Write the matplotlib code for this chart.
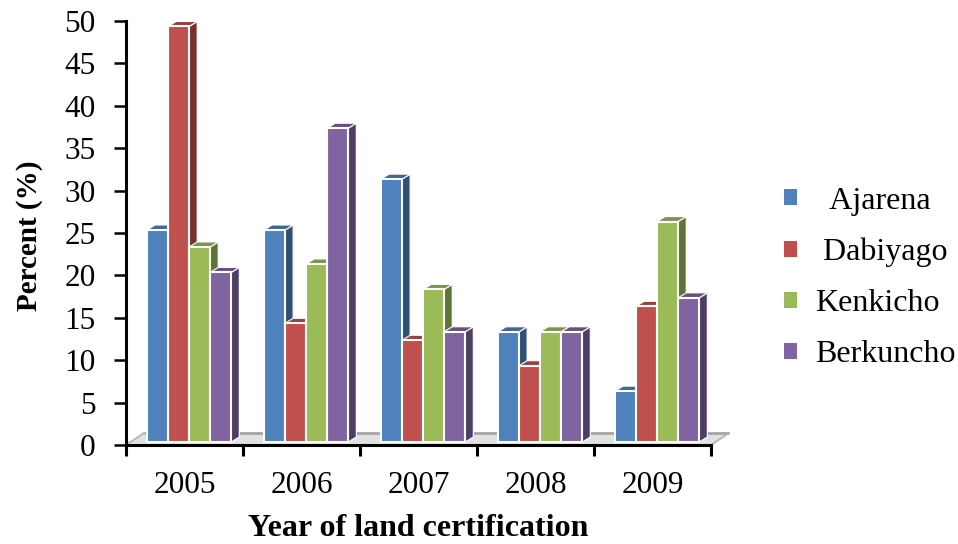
import numpy as np
import matplotlib
matplotlib.use("Agg")
import matplotlib.pyplot as plt
import matplotlib.transforms as mtransforms
from matplotlib.patches import Polygon, Patch
from matplotlib.colors import to_rgb

plt.rcParams["font.family"] = "Liberation Serif"

# Share of land certificates issued per year, by kebele
years = ["2005", "2006", "2007", "2008", "2009"]
sites = ["Ajarena", "Dabiyago", "Kenkicho", "Berkuncho"]
legend_labels = ["  Ajarena", " Dabiyago", "Kenkicho", "Berkuncho"]
ajarena = [25, 25, 31, 13, 6]
dabiyago = [49, 14, 12, 9, 16]
kenkicho = [23, 21, 18, 13, 26]
berkuncho = [20, 37, 13, 13, 17]
series = [ajarena, dabiyago, kenkicho, berkuncho]
colors = ["#4F81BD", "#C0504D", "#9BBB59", "#8064A2"]

TICK_FONT = 22.5
LABEL_FONT = 23


def shade(color, factor):
    return tuple(np.clip(np.array(to_rgb(color)) * factor, 0, 1))


fig = plt.figure(figsize=(9.58, 5.44), dpi=100)
ax = fig.add_axes([126 / 958, 99 / 544, 585 / 958, 424 / 544])
ax.set_xlim(0, len(years))
ax.set_ylim(0, 50)

# pixel sizes of the fake 3D depth, converted to data units
px_x = 585 / len(years)
px_y = 424 / 50
bar_dx, bar_dy = 8 / px_x, 5 / px_y
floor_dx, floor_dy = 18 / px_x, 12 / px_y

# bars sit a little back on the floor
lift = mtransforms.ScaledTranslation(0, 3 / 100, fig.dpi_scale_trans)
bar_trans = ax.transData + lift

# floor of the 3D chart
n = len(years)
floor = Polygon([(0, 0), (n, 0), (n + floor_dx, floor_dy), (floor_dx, floor_dy)],
                closed=True, facecolor="#E2E2E2", edgecolor="none",
                zorder=0.5, clip_on=False)
ax.add_patch(floor)
ax.plot([floor_dx, n + floor_dx], [floor_dy, floor_dy], color="#A6A6A6",
        lw=2, zorder=0.6, clip_on=False, solid_capstyle="butt")
ax.plot([n, n + floor_dx], [0, floor_dy], color="#B0B0B0", lw=1.2,
        zorder=0.6, clip_on=False)
ax.plot([0, floor_dx], [0, floor_dy], color="#B0B0B0", lw=1.2,
        zorder=0.6, clip_on=False)

group_offset = 0.18
bar_width = 0.18
x = np.arange(n)

for g in range(n):
    for i, (vals, col) in enumerate(zip(series, colors)):
        x0 = x[g] + group_offset + i * bar_width
        x1 = x0 + bar_width
        h = vals[g]
        side = Polygon([(x1, 0), (x1 + bar_dx, bar_dy), (x1 + bar_dx, h + bar_dy), (x1, h)],
                       closed=True, facecolor=shade(col, 0.62), edgecolor="white",
                       lw=0.8, zorder=2, transform=bar_trans)
        top = Polygon([(x0, h), (x1, h), (x1 + bar_dx, h + bar_dy), (x0 + bar_dx, h + bar_dy)],
                      closed=True, facecolor=shade(col, 0.8), edgecolor="white",
                      lw=0.8, zorder=2, transform=bar_trans)
        ax.add_patch(side)
        ax.add_patch(top)

# front faces of the bars
for i, (vals, col) in enumerate(zip(series, colors)):
    rects = ax.bar(x + group_offset + i * bar_width, vals, width=bar_width,
                   align="edge", color=col, edgecolor="white", linewidth=1.5,
                   zorder=3)
    for r in rects:
        r.set_transform(bar_trans)

# axes styling
for s in ["top", "right"]:
    ax.spines[s].set_visible(False)
for s in ["left", "bottom"]:
    ax.spines[s].set_linewidth(2.2)
    ax.spines[s].set_zorder(4)

ax.set_yticks(range(0, 51, 5))
ax.tick_params(axis="y", length=9, width=1.8, pad=13, labelsize=TICK_FONT)
ax.set_xticks(range(n + 1))
ax.set_xticklabels([])
ax.set_xticks(x + 0.5, minor=True)
ax.set_xticklabels(years, minor=True)
ax.tick_params(axis="x", which="major", length=8, width=2.2)
ax.tick_params(axis="x", which="minor", length=0, pad=19, labelsize=TICK_FONT)

ax.set_ylabel("Percent (%)", fontsize=21, fontweight="bold")
ax.yaxis.set_label_coords(-0.142, 0.493)
ax.set_xlabel("Year of land certification", fontsize=LABEL_FONT, fontweight="bold")
ax.xaxis.set_label_coords(0.5, -0.162)

handles = [Patch(facecolor=c, edgecolor="none") for c in colors]
fig.legend(handles, legend_labels, loc="center left",
           bbox_to_anchor=(784 / 958, 1 - 278 / 544), frameon=False,
           fontsize=LABEL_FONT, handlelength=0.41, handleheight=0.41,
           handletextpad=0.55, labelspacing=0.69, borderpad=0, borderaxespad=0)

fig.savefig("out.png", dpi=100)
